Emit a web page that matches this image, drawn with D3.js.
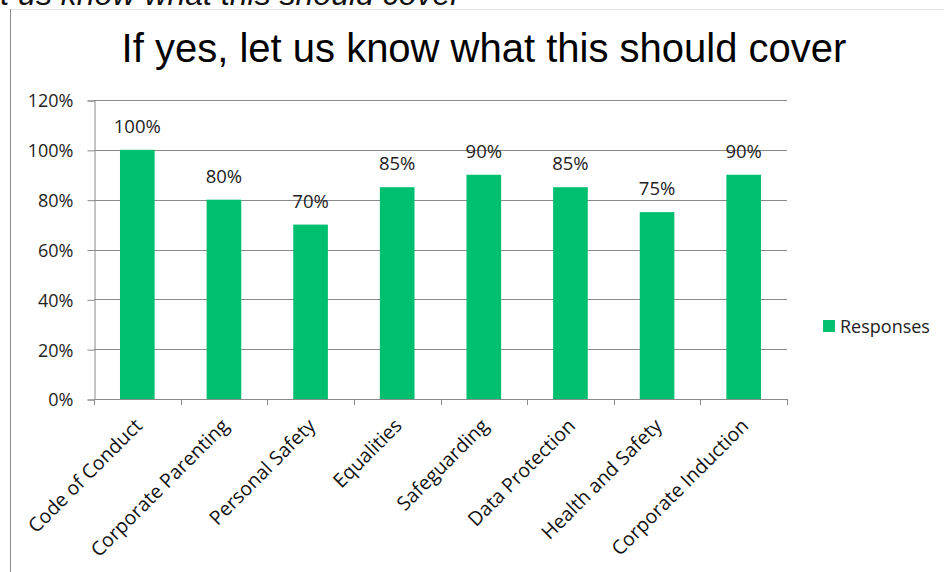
<!DOCTYPE html>
<html>
<head>
<meta charset="utf-8">
<script src="https://cdn.jsdelivr.net/npm/d3@7"></script>
<style>
  body { margin: 0; background: #fff; }
  svg { display: block; }
  .tick_lbl { font-family: "Open Sans", sans-serif; font-size: 18px; fill: #222; }
  .cat_lbl { font-family: "Open Sans", sans-serif; font-size: 19.5px; fill: #111; }
  .val_lbl { font-family: "Open Sans", sans-serif; font-size: 18.5px; fill: #222; }
</style>
</head>
<body>
<div id="CHART"></div>
<script>
// data
const categories = ["Code of Conduct", "Corporate Parenting", "Personal Safety", "Equalities",
                    "Safeguarding", "Data Protection", "Health and Safety", "Corporate Induction"];
const responses = [1.00, 0.80, 0.70, 0.85, 0.90, 0.85, 0.75, 0.90];
const y_ticks = [0, 0.2, 0.4, 0.6, 0.8, 1.0, 1.2];
const series_name = "Responses";

const W = 944, H = 572;
const bar_color = "#00bf6f";

const svg = d3.select("#CHART").append("svg").attr("width", W).attr("height", H);

// cut-off slide text at the very top
svg.append("text")
  .attr("x", 461).attr("y", 5)
  .attr("text-anchor", "end")
  .style("font-family", "Arial, 'Liberation Sans', sans-serif")
  .style("font-size", "32px").style("font-style", "italic")
  .attr("fill", "#111")
  .text("If yes, let us know what this should cover");

// chart frame (top + left edges)
svg.append("line").attr("x1", 10).attr("x2", W).attr("y1", 9.5).attr("y2", 9.5)
  .attr("stroke", "#e4e4e4");
svg.append("line").attr("x1", 10.5).attr("x2", 10.5).attr("y1", 9).attr("y2", H)
  .attr("stroke", "#8c8c8c");

// title
svg.append("text")
  .attr("x", 484).attr("y", 62)
  .attr("text-anchor", "middle")
  .style("font-family", "Arial, 'Liberation Sans', sans-serif")
  .style("font-size", "40px")
  .attr("fill", "#000")
  .text("If yes, let us know what this should cover");

// plot area
const plot = {x0: 94, x1: 787, y0: 100, y1: 399};

const x = d3.scaleBand().domain(categories).range([plot.x0, plot.x1])
  .paddingInner(0.6).paddingOuter(0.3);
const y = d3.scaleLinear().domain([0, 1.2]).range([plot.y1, plot.y0]);

// gridlines
svg.append("g").selectAll("line").data(y_ticks.filter(d => d > 0)).join("line")
  .attr("x1", plot.x0).attr("x2", plot.x1)
  .attr("y1", d => Math.round(y(d)) + 0.5).attr("y2", d => Math.round(y(d)) + 0.5)
  .attr("stroke", "#8a8a8a").attr("stroke-width", 1);

// y axis
const yAxis = svg.append("g").attr("transform", `translate(${plot.x0 + 0.5},0.5)`)
  .call(d3.axisLeft(y).tickValues(y_ticks).tickFormat(d3.format(".0%")).tickSizeOuter(0).tickSize(7).tickPadding(14));
yAxis.select(".domain").attr("stroke", "#8a8a8a");
yAxis.selectAll(".tick line").attr("stroke", "#8a8a8a");
yAxis.selectAll(".tick text").attr("class", "tick_lbl").attr("font-size", null).attr("font-family", null)
  .attr("dy", "0.36em");

// bars
svg.append("g").selectAll("rect").data(categories).join("rect")
  .attr("x", d => x(d))
  .attr("y", (d, i) => y(responses[i]))
  .attr("width", x.bandwidth())
  .attr("height", (d, i) => y(0) - y(responses[i]))
  .attr("fill", bar_color);

// x axis with boundary ticks
const step = x.step();
const bounds = d3.range(categories.length + 1).map(i => plot.x0 + i * step);
const xa = svg.append("g");
xa.append("line").attr("x1", plot.x0).attr("x2", plot.x1)
  .attr("y1", plot.y1 + 0.5).attr("y2", plot.y1 + 0.5).attr("stroke", "#8a8a8a");
xa.selectAll("line.tk").data(bounds).join("line").attr("class", "tk")
  .attr("x1", d => Math.round(d) + 0.5).attr("x2", d => Math.round(d) + 0.5)
  .attr("y1", plot.y1).attr("y2", plot.y1 + 6).attr("stroke", "#8a8a8a");

// category labels
svg.append("g").selectAll("text").data(categories).join("text")
  .attr("class", "cat_lbl")
  .attr("text-anchor", "end")
  .attr("transform", d => `translate(${x(d) + x.bandwidth() / 2 + 6},${plot.y1 + 28}) rotate(-45)`)
  .text(d => d);

// value labels
svg.append("g").selectAll("text").data(categories).join("text")
  .attr("class", "val_lbl")
  .attr("text-anchor", "middle")
  .attr("x", d => x(d) + x.bandwidth() / 2)
  .attr("y", (d, i) => y(responses[i]) - 17)
  .text((d, i) => d3.format(".0%")(responses[i]));

// legend
const leg = svg.append("g").attr("transform", "translate(823,320)");
leg.append("rect").attr("width", 12).attr("height", 12).attr("fill", bar_color);
leg.append("text").attr("x", 17).attr("y", 13)
  .style("font-family", "'Open Sans', sans-serif").style("font-size", "18px")
  .attr("fill", "#222").text(series_name);
</script>
</body>
</html>
